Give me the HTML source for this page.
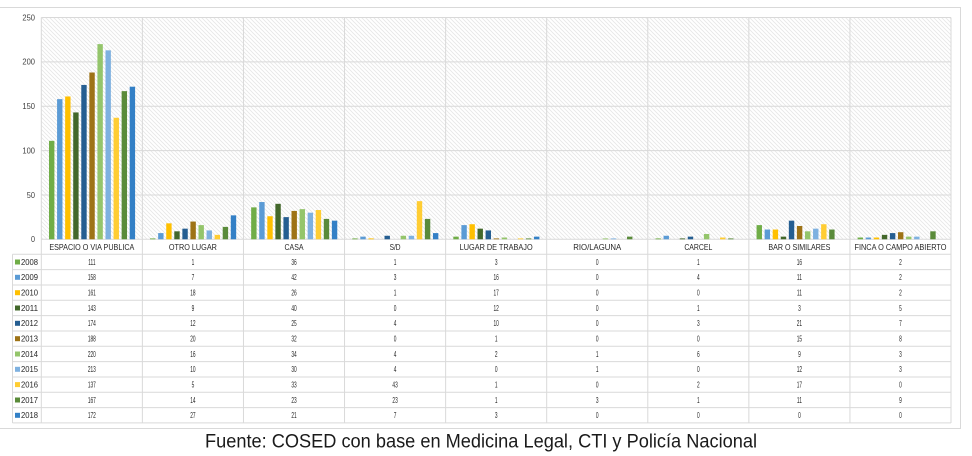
<!DOCTYPE html>
<html><head><meta charset="utf-8"><style>
html,body{margin:0;padding:0;background:#fff;}
svg{display:block;}
text{font-family:"Liberation Sans",sans-serif;fill:#262626;}
.t{font-size:8px;}
.v{font-size:8px;text-anchor:middle;}
.h{font-size:8.5px;text-anchor:middle;}
.y{font-size:8px;text-anchor:end;fill:#404040;}
.c0{fill:#70AD47}.c1{fill:#5B9BD5}.c2{fill:#FFC000}.c3{fill:#43682B}.c4{fill:#255E91}.c5{fill:#9E7316}.c6{fill:#94C56B}.c7{fill:#7EB1E0}.c8{fill:#FFCD33}.c9{fill:#5A8B3A}.c10{fill:#3380C6}
</style></head><body>
<svg width="972" height="456" viewBox="0 0 972 456" xmlns="http://www.w3.org/2000/svg">
<defs>
<pattern id="hat" patternUnits="userSpaceOnUse" width="4" height="4">
<path d="M-1,-1 L5,5 M-1,3 L1,5 M3,-1 L5,1" stroke="#e6e6e6" stroke-width="0.8"/>
</pattern>
</defs>
<rect x="-1" y="7.5" width="961.5" height="421" fill="#fff" stroke="#d9d9d9" stroke-width="1"/>
<rect x="41.3" y="17.5" width="909.7" height="221.8" fill="url(#hat)"/>
<g stroke="#d9d9d9" stroke-width="1" fill="none">
<path d="M41.3 17.5H951M41.3 61.86H951M41.3 106.22H951M41.3 150.58H951M41.3 194.94H951"/>
<path d="M41.3 17.5V423M142.38 17.5V423M243.46 17.5V423M344.54 17.5V423M445.62 17.5V423M546.7 17.5V423M647.78 17.5V423M748.86 17.5V423M849.94 17.5V423M951 17.5V423"/>
<path d="M12.5 254.3V423"/>
<path d="M12.5 254.3H951M12.5 269.63H951M12.5 284.96H951M12.5 300.29H951M12.5 315.62H951M12.5 330.95H951M12.5 346.28H951M12.5 361.61H951M12.5 376.94H951M12.5 392.27H951M12.5 407.6H951M12.5 422.93H951"/>
<path d="M41.3 239.3H951"/>
</g>
<!-- y ticks -->
<text class="y" x="35" y="20.3" textLength="12.6" lengthAdjust="spacingAndGlyphs">250</text>
<text class="y" x="35" y="64.7" textLength="12.6" lengthAdjust="spacingAndGlyphs">200</text>
<text class="y" x="35" y="109" textLength="12.6" lengthAdjust="spacingAndGlyphs">150</text>
<text class="y" x="35" y="153.4" textLength="12.6" lengthAdjust="spacingAndGlyphs">100</text>
<text class="y" x="35" y="197.8" textLength="8.2" lengthAdjust="spacingAndGlyphs">50</text>
<text class="y" x="35" y="242.1" textLength="4" lengthAdjust="spacingAndGlyphs">0</text>
<!-- bars -->
<g transform="translate(41.3,239.3) scale(1,-0.8872)">
<rect class="c0" x="7.7" width="5.4" height="111"/><rect class="c1" x="15.77" width="5.4" height="158"/><rect class="c2" x="23.84" width="5.4" height="161"/><rect class="c3" x="31.91" width="5.4" height="143"/><rect class="c4" x="39.98" width="5.4" height="174"/><rect class="c5" x="48.05" width="5.4" height="188"/><rect class="c6" x="56.12" width="5.4" height="220"/><rect class="c7" x="64.19" width="5.4" height="213"/><rect class="c8" x="72.26" width="5.4" height="137"/><rect class="c9" x="80.33" width="5.4" height="167"/><rect class="c10" x="88.4" width="5.4" height="172"/>
</g>
<g transform="translate(142.38,239.3) scale(1,-0.8872)">
<rect class="c0" x="7.7" width="5.4" height="1"/><rect class="c1" x="15.77" width="5.4" height="7"/><rect class="c2" x="23.84" width="5.4" height="18"/><rect class="c3" x="31.91" width="5.4" height="9"/><rect class="c4" x="39.98" width="5.4" height="12"/><rect class="c5" x="48.05" width="5.4" height="20"/><rect class="c6" x="56.12" width="5.4" height="16"/><rect class="c7" x="64.19" width="5.4" height="10"/><rect class="c8" x="72.26" width="5.4" height="5"/><rect class="c9" x="80.33" width="5.4" height="14"/><rect class="c10" x="88.4" width="5.4" height="27"/>
</g>
<g transform="translate(243.46,239.3) scale(1,-0.8872)">
<rect class="c0" x="7.7" width="5.4" height="36"/><rect class="c1" x="15.77" width="5.4" height="42"/><rect class="c2" x="23.84" width="5.4" height="26"/><rect class="c3" x="31.91" width="5.4" height="40"/><rect class="c4" x="39.98" width="5.4" height="25"/><rect class="c5" x="48.05" width="5.4" height="32"/><rect class="c6" x="56.12" width="5.4" height="34"/><rect class="c7" x="64.19" width="5.4" height="30"/><rect class="c8" x="72.26" width="5.4" height="33"/><rect class="c9" x="80.33" width="5.4" height="23"/><rect class="c10" x="88.4" width="5.4" height="21"/>
</g>
<g transform="translate(344.54,239.3) scale(1,-0.8872)">
<rect class="c0" x="7.7" width="5.4" height="1"/><rect class="c1" x="15.77" width="5.4" height="3"/><rect class="c2" x="23.84" width="5.4" height="1"/><rect class="c4" x="39.98" width="5.4" height="4"/><rect class="c6" x="56.12" width="5.4" height="4"/><rect class="c7" x="64.19" width="5.4" height="4"/><rect class="c8" x="72.26" width="5.4" height="43"/><rect class="c9" x="80.33" width="5.4" height="23"/><rect class="c10" x="88.4" width="5.4" height="7"/>
</g>
<g transform="translate(445.62,239.3) scale(1,-0.8872)">
<rect class="c0" x="7.7" width="5.4" height="3"/><rect class="c1" x="15.77" width="5.4" height="16"/><rect class="c2" x="23.84" width="5.4" height="17"/><rect class="c3" x="31.91" width="5.4" height="12"/><rect class="c4" x="39.98" width="5.4" height="10"/><rect class="c5" x="48.05" width="5.4" height="1"/><rect class="c6" x="56.12" width="5.4" height="2"/><rect class="c8" x="72.26" width="5.4" height="1"/><rect class="c9" x="80.33" width="5.4" height="1"/><rect class="c10" x="88.4" width="5.4" height="3"/>
</g>
<g transform="translate(546.7,239.3) scale(1,-0.8872)">
<rect class="c6" x="56.12" width="5.4" height="1"/><rect class="c7" x="64.19" width="5.4" height="1"/><rect class="c9" x="80.33" width="5.4" height="3"/>
</g>
<g transform="translate(647.78,239.3) scale(1,-0.8872)">
<rect class="c0" x="7.7" width="5.4" height="1"/><rect class="c1" x="15.77" width="5.4" height="4"/><rect class="c3" x="31.91" width="5.4" height="1"/><rect class="c4" x="39.98" width="5.4" height="3"/><rect class="c6" x="56.12" width="5.4" height="6"/><rect class="c8" x="72.26" width="5.4" height="2"/><rect class="c9" x="80.33" width="5.4" height="1"/>
</g>
<g transform="translate(748.86,239.3) scale(1,-0.8872)">
<rect class="c0" x="7.7" width="5.4" height="16"/><rect class="c1" x="15.77" width="5.4" height="11"/><rect class="c2" x="23.84" width="5.4" height="11"/><rect class="c3" x="31.91" width="5.4" height="3"/><rect class="c4" x="39.98" width="5.4" height="21"/><rect class="c5" x="48.05" width="5.4" height="15"/><rect class="c6" x="56.12" width="5.4" height="9"/><rect class="c7" x="64.19" width="5.4" height="12"/><rect class="c8" x="72.26" width="5.4" height="17"/><rect class="c9" x="80.33" width="5.4" height="11"/>
</g>
<g transform="translate(849.94,239.3) scale(1,-0.8872)">
<rect class="c0" x="7.7" width="5.4" height="2"/><rect class="c1" x="15.77" width="5.4" height="2"/><rect class="c2" x="23.84" width="5.4" height="2"/><rect class="c3" x="31.91" width="5.4" height="5"/><rect class="c4" x="39.98" width="5.4" height="7"/><rect class="c5" x="48.05" width="5.4" height="8"/><rect class="c6" x="56.12" width="5.4" height="3"/><rect class="c7" x="64.19" width="5.4" height="3"/><rect class="c9" x="80.33" width="5.4" height="9"/>
</g>
<!-- header labels -->
<text class="h" x="91.84" y="250" textLength="85" lengthAdjust="spacingAndGlyphs">ESPACIO O VIA PUBLICA</text>
<text class="h" x="192.92" y="250" textLength="48" lengthAdjust="spacingAndGlyphs">OTRO LUGAR</text>
<text class="h" x="294" y="250" textLength="19" lengthAdjust="spacingAndGlyphs">CASA</text>
<text class="h" x="395.08" y="250" textLength="11" lengthAdjust="spacingAndGlyphs">S/D</text>
<text class="h" x="496.16" y="250" textLength="73" lengthAdjust="spacingAndGlyphs">LUGAR DE TRABAJO</text>
<text class="h" x="597.24" y="250" textLength="48" lengthAdjust="spacingAndGlyphs">RIO/LAGUNA</text>
<text class="h" x="698.32" y="250" textLength="28" lengthAdjust="spacingAndGlyphs">CARCEL</text>
<text class="h" x="799.4" y="250" textLength="62" lengthAdjust="spacingAndGlyphs">BAR O SIMILARES</text>
<text class="h" x="900.48" y="250" textLength="92" lengthAdjust="spacingAndGlyphs">FINCA O CAMPO ABIERTO</text>
<!-- legend -->
<rect class="c0" x="15" y="259.5" width="5" height="5"/><text class="t" x="21" y="264.8" textLength="17" lengthAdjust="spacingAndGlyphs">2008</text>
<rect class="c1" x="15" y="274.8" width="5" height="5"/><text class="t" x="21" y="280.1" textLength="17" lengthAdjust="spacingAndGlyphs">2009</text>
<rect class="c2" x="15" y="290.2" width="5" height="5"/><text class="t" x="21" y="295.5" textLength="17" lengthAdjust="spacingAndGlyphs">2010</text>
<rect class="c3" x="15" y="305.5" width="5" height="5"/><text class="t" x="21" y="310.8" textLength="17" lengthAdjust="spacingAndGlyphs">2011</text>
<rect class="c4" x="15" y="320.8" width="5" height="5"/><text class="t" x="21" y="326.1" textLength="17" lengthAdjust="spacingAndGlyphs">2012</text>
<rect class="c5" x="15" y="336.2" width="5" height="5"/><text class="t" x="21" y="341.5" textLength="17" lengthAdjust="spacingAndGlyphs">2013</text>
<rect class="c6" x="15" y="351.5" width="5" height="5"/><text class="t" x="21" y="356.8" textLength="17" lengthAdjust="spacingAndGlyphs">2014</text>
<rect class="c7" x="15" y="366.8" width="5" height="5"/><text class="t" x="21" y="372.1" textLength="17" lengthAdjust="spacingAndGlyphs">2015</text>
<rect class="c8" x="15" y="382.1" width="5" height="5"/><text class="t" x="21" y="387.4" textLength="17" lengthAdjust="spacingAndGlyphs">2016</text>
<rect class="c9" x="15" y="397.5" width="5" height="5"/><text class="t" x="21" y="402.8" textLength="17" lengthAdjust="spacingAndGlyphs">2017</text>
<rect class="c10" x="15" y="412.8" width="5" height="5"/><text class="t" x="21" y="418.1" textLength="17" lengthAdjust="spacingAndGlyphs">2018</text>
<!-- values (per column, horizontally condensed) -->
<g transform="translate(91.84,0) scale(0.6,1)">
<text class="v" x="0" y="264.8">111</text><text class="v" x="0" y="280.1">158</text><text class="v" x="0" y="295.5">161</text><text class="v" x="0" y="310.8">143</text><text class="v" x="0" y="326.1">174</text><text class="v" x="0" y="341.5">188</text><text class="v" x="0" y="356.8">220</text><text class="v" x="0" y="372.1">213</text><text class="v" x="0" y="387.4">137</text><text class="v" x="0" y="402.8">167</text><text class="v" x="0" y="418.1">172</text>
</g>
<g transform="translate(192.92,0) scale(0.6,1)">
<text class="v" x="0" y="264.8">1</text><text class="v" x="0" y="280.1">7</text><text class="v" x="0" y="295.5">18</text><text class="v" x="0" y="310.8">9</text><text class="v" x="0" y="326.1">12</text><text class="v" x="0" y="341.5">20</text><text class="v" x="0" y="356.8">16</text><text class="v" x="0" y="372.1">10</text><text class="v" x="0" y="387.4">5</text><text class="v" x="0" y="402.8">14</text><text class="v" x="0" y="418.1">27</text>
</g>
<g transform="translate(294,0) scale(0.6,1)">
<text class="v" x="0" y="264.8">36</text><text class="v" x="0" y="280.1">42</text><text class="v" x="0" y="295.5">26</text><text class="v" x="0" y="310.8">40</text><text class="v" x="0" y="326.1">25</text><text class="v" x="0" y="341.5">32</text><text class="v" x="0" y="356.8">34</text><text class="v" x="0" y="372.1">30</text><text class="v" x="0" y="387.4">33</text><text class="v" x="0" y="402.8">23</text><text class="v" x="0" y="418.1">21</text>
</g>
<g transform="translate(395.08,0) scale(0.6,1)">
<text class="v" x="0" y="264.8">1</text><text class="v" x="0" y="280.1">3</text><text class="v" x="0" y="295.5">1</text><text class="v" x="0" y="310.8">0</text><text class="v" x="0" y="326.1">4</text><text class="v" x="0" y="341.5">0</text><text class="v" x="0" y="356.8">4</text><text class="v" x="0" y="372.1">4</text><text class="v" x="0" y="387.4">43</text><text class="v" x="0" y="402.8">23</text><text class="v" x="0" y="418.1">7</text>
</g>
<g transform="translate(496.16,0) scale(0.6,1)">
<text class="v" x="0" y="264.8">3</text><text class="v" x="0" y="280.1">16</text><text class="v" x="0" y="295.5">17</text><text class="v" x="0" y="310.8">12</text><text class="v" x="0" y="326.1">10</text><text class="v" x="0" y="341.5">1</text><text class="v" x="0" y="356.8">2</text><text class="v" x="0" y="372.1">0</text><text class="v" x="0" y="387.4">1</text><text class="v" x="0" y="402.8">1</text><text class="v" x="0" y="418.1">3</text>
</g>
<g transform="translate(597.24,0) scale(0.6,1)">
<text class="v" x="0" y="264.8">0</text><text class="v" x="0" y="280.1">0</text><text class="v" x="0" y="295.5">0</text><text class="v" x="0" y="310.8">0</text><text class="v" x="0" y="326.1">0</text><text class="v" x="0" y="341.5">0</text><text class="v" x="0" y="356.8">1</text><text class="v" x="0" y="372.1">1</text><text class="v" x="0" y="387.4">0</text><text class="v" x="0" y="402.8">3</text><text class="v" x="0" y="418.1">0</text>
</g>
<g transform="translate(698.32,0) scale(0.6,1)">
<text class="v" x="0" y="264.8">1</text><text class="v" x="0" y="280.1">4</text><text class="v" x="0" y="295.5">0</text><text class="v" x="0" y="310.8">1</text><text class="v" x="0" y="326.1">3</text><text class="v" x="0" y="341.5">0</text><text class="v" x="0" y="356.8">6</text><text class="v" x="0" y="372.1">0</text><text class="v" x="0" y="387.4">2</text><text class="v" x="0" y="402.8">1</text><text class="v" x="0" y="418.1">0</text>
</g>
<g transform="translate(799.4,0) scale(0.6,1)">
<text class="v" x="0" y="264.8">16</text><text class="v" x="0" y="280.1">11</text><text class="v" x="0" y="295.5">11</text><text class="v" x="0" y="310.8">3</text><text class="v" x="0" y="326.1">21</text><text class="v" x="0" y="341.5">15</text><text class="v" x="0" y="356.8">9</text><text class="v" x="0" y="372.1">12</text><text class="v" x="0" y="387.4">17</text><text class="v" x="0" y="402.8">11</text><text class="v" x="0" y="418.1">0</text>
</g>
<g transform="translate(900.48,0) scale(0.6,1)">
<text class="v" x="0" y="264.8">2</text><text class="v" x="0" y="280.1">2</text><text class="v" x="0" y="295.5">2</text><text class="v" x="0" y="310.8">5</text><text class="v" x="0" y="326.1">7</text><text class="v" x="0" y="341.5">8</text><text class="v" x="0" y="356.8">3</text><text class="v" x="0" y="372.1">3</text><text class="v" x="0" y="387.4">0</text><text class="v" x="0" y="402.8">9</text><text class="v" x="0" y="418.1">0</text>
</g>
<text x="205" y="447.5" style="font-size:19px;fill:#1a1a1a" textLength="552" lengthAdjust="spacingAndGlyphs">Fuente: COSED con base en Medicina Legal, CTI y Policía Nacional</text>
</svg>
</body></html>
